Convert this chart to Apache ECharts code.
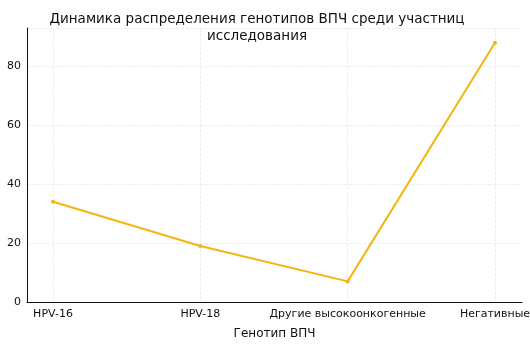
<!DOCTYPE html>
<html>
<head>
<meta charset="utf-8">
<script src="https://cdn.jsdelivr.net/npm/echarts@6/dist/echarts.min.js"></script>
<style>
  html, body { margin: 0; padding: 0; background: #fff; }
  #chart { width: 530px; height: 353px; }
</style>
</head>
<body>
<div id="chart"></div>
<script>
'use strict'

const genotypes = ['HPV-16', 'HPV-18', 'Другие высокоонкогенные', 'Негативные']
const counts = [34, 19, 7, 88]
const yTicks = [0, 20, 40, 60, 80]
const yMax = 93

const chart = echarts.init(document.getElementById('chart'))
const font = 'DejaVu Sans'
const gridLine = { show: true, lineStyle: { color: '#e8e8e8', type: 'dashed', width: 0.8 } }

// outer grid carries the axis frame and y ticks, inner grid carries the categories
const option = {
  animation: false,
  textStyle: { fontFamily: font },
  title: {
    text: 'Динамика распределения генотипов ВПЧ среди участниц\nисследования',
    left: 252,
    top: 6,
    textAlign: 'center',
    textStyle: { fontFamily: font, fontSize: 13.5, fontWeight: 'normal', color: '#111', lineHeight: 17 }
  },
  grid: [
    { left: 27, right: 8, top: 28, bottom: 51, outerBoundsMode: 'none' },
    { left: 53, right: 35, top: 28, bottom: 51, outerBoundsMode: 'none' }
  ],
  xAxis: [
    {
      gridIndex: 0,
      type: 'value',
      min: 0,
      max: 1,
      name: 'Генотип ВПЧ',
      nameLocation: 'middle',
      nameGap: 26,
      nameTextStyle: { fontFamily: font, fontSize: 12, color: '#111' },
      axisLine: { show: true, lineStyle: { color: '#111', width: 1 } },
      axisTick: { show: false },
      axisLabel: { show: false },
      splitLine: { show: false }
    },
    {
      gridIndex: 1,
      type: 'category',
      data: genotypes,
      boundaryGap: false,
      axisLine: { show: false },
      axisTick: { show: false },
      axisLabel: { fontFamily: font, fontSize: 11, color: '#111', margin: 7, interval: 0 },
      splitLine: gridLine
    }
  ],
  yAxis: [
    {
      gridIndex: 0,
      type: 'value',
      min: 0,
      max: yMax,
      interval: 20,
      name: 'Количество участниц',
      nameLocation: 'middle',
      nameGap: 28,
      nameTextStyle: { fontFamily: font, fontSize: 11, color: '#111' },
      axisLine: { show: true, lineStyle: { color: '#111', width: 1 } },
      axisTick: { show: false },
      axisLabel: {
        fontFamily: font, fontSize: 11, color: '#111', margin: 6,
        formatter: v => (yTicks.includes(v) ? String(v) : '')
      },
      splitLine: gridLine
    },
    {
      gridIndex: 1,
      type: 'value',
      min: 0,
      max: yMax,
      show: false
    }
  ],
  series: [
    {
      type: 'line',
      xAxisIndex: 1,
      yAxisIndex: 1,
      data: counts,
      symbol: 'circle',
      symbolSize: 4,
      itemStyle: { color: '#f5b50f' },
      lineStyle: { color: '#f5b50f', width: 2 }
    }
  ]
}

chart.setOption(option)
</script>
</body>
</html>
